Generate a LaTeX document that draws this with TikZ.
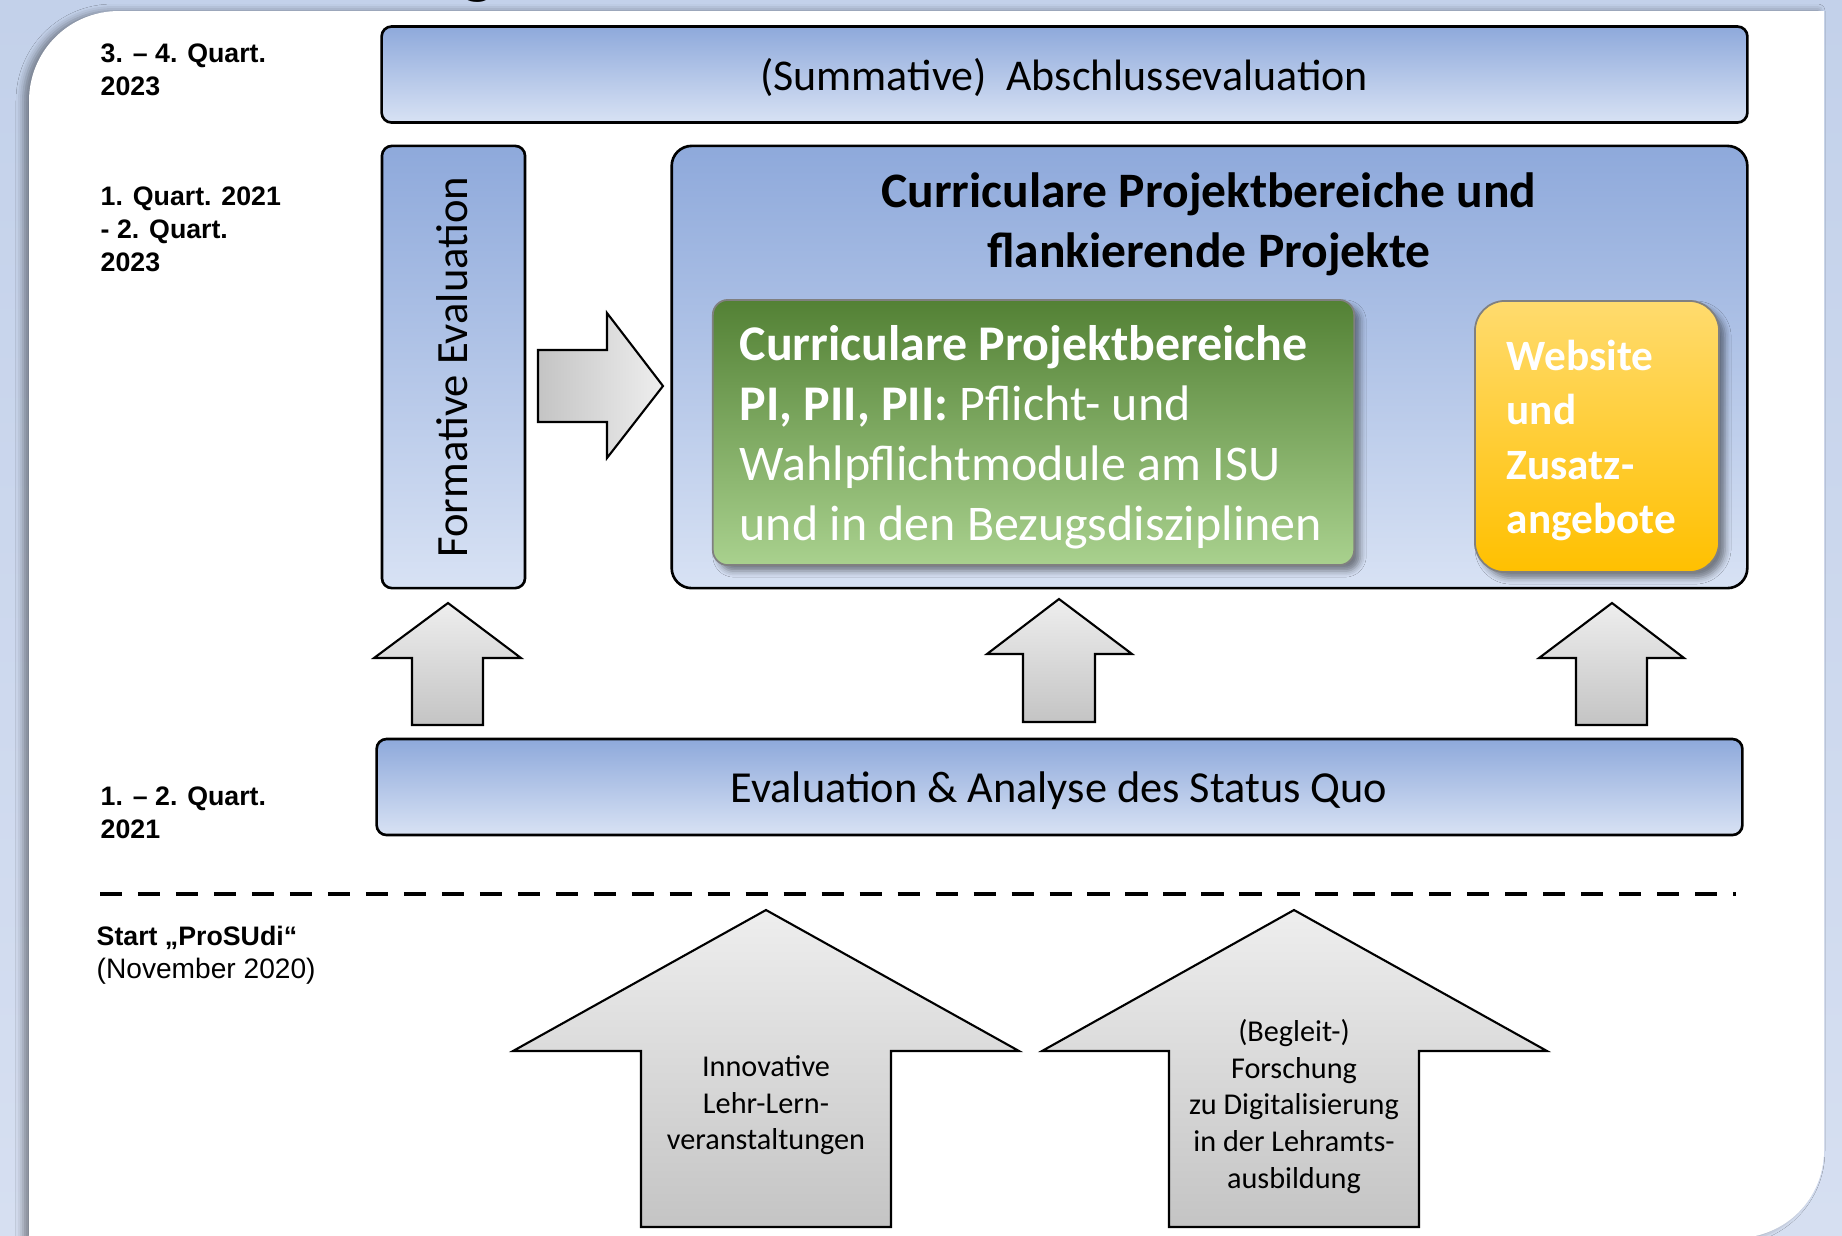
\documentclass[tikz,border=0pt]{standalone}
\usepackage{fontspec}
\setmainfont{Carlito}
\newfontfamily\labelfont{Liberation Sans}
\usetikzlibrary{shadows.blur}

\definecolor{bgtop}{HTML}{C3D1EA}
\definecolor{bgbot}{HTML}{D6DFF1}
\definecolor{boxtop}{HTML}{8EA9DB}
\definecolor{boxbot}{HTML}{D8E2F4}
\definecolor{greentop}{HTML}{538135}
\definecolor{greenbot}{HTML}{A9D18E}
\definecolor{orangetop}{HTML}{FFDB6E}
\definecolor{orangebot}{HTML}{FFC000}
\definecolor{arrowlight}{HTML}{EEEEEE}
\definecolor{arrowdark}{HTML}{C4C4C4}

\tikzset{
  bluebox/.style={draw=black, line width=0.75pt, rounded corners=0.1cm,
    top color=boxtop, bottom color=boxbot, inner sep=0pt},
  colorbox/.style={draw=black!50, line width=0.5pt, inner sep=0pt,
    blur shadow={shadow xshift=0.06cm, shadow yshift=-0.06cm,
      shadow blur radius=0.06cm, shadow opacity=45}},
  blockarrow/.style={draw=black, line width=0.6pt, line join=miter},
  uparrow/.style={blockarrow, top color=arrowlight, bottom color=arrowdark},
  timelabel/.style={anchor=west, align=left, inner sep=0pt,
    font=\labelfont\fontsize{7.6}{9.4}\selectfont},
  boxtext/.style={inner sep=0pt, font=\fontsize{12.5}{15}\selectfont},
  titletext/.style={inner sep=0pt, align=center,
    font=\bfseries\fontsize{14.1}{17.1}\selectfont},
  greentext/.style={inner sep=0pt, anchor=west, align=left, text=white,
    font=\fontsize{14.2}{17.1}\selectfont},
  orangetext/.style={inner sep=0pt, anchor=west, align=left, text=white,
    font=\bfseries\fontsize{12.3}{15.4}\selectfont},
  arrowtext/.style={inner sep=0pt, align=center,
    font=\fontsize{8.6}{10.4}\selectfont},
}

\begin{document}
\begin{tikzpicture}[x=0.01cm, y=-0.01cm]
  \useasboundingbox (0,0) rectangle (1842,1235);

  % background and white panel
  \fill[top color=bgtop, bottom color=bgbot] (0,0) rectangle (1842,1235);
  \fill[white, blur shadow={shadow xshift=-0.06cm, shadow yshift=0cm,
      shadow blur radius=0.07cm, shadow opacity=40}]
    (29,1240) -- (29,101) .. controls (29,51) and (69,11) .. (119,11)
    -- (1824,11) -- (1824,1150) .. controls (1824,1199) and (1785,1238) .. (1736,1238)
    -- cycle;
  \node[anchor=base, inner sep=0pt, font=\bfseries\fontsize{20}{24}\selectfont] (headg) at (478,-10) {g};

  % time labels
  \node[timelabel] (lab1) at (100,70) {\bfseries 3. – 4. Quart.\\\bfseries 2023};
  \node[timelabel] (lab2) at (100,229) {\bfseries 1. Quart. 2021\\\bfseries - 2. Quart.\\\bfseries 2023};
  \node[timelabel] (lab3) at (100,813) {\bfseries 1. – 2. Quart.\\\bfseries 2021};
  \node[timelabel] (lab4) at (96,955) {\bfseries Start „ProSUdi“\\\fontsize{8}{9.4}\selectfont (November 2020)};

  % summative evaluation
  \node[bluebox, minimum width=13.65cm, minimum height=0.96cm] (summ) at (1064.5,74.5) {};
  \node[boxtext] (summtext) at (1064,77.5) {(Summative)\hspace{0.45em}Abschlussevaluation};

  % formative evaluation
  \node[bluebox, minimum width=1.43cm, minimum height=4.42cm] (form) at (453.5,367) {};
  \node[boxtext, rotate=90, font=\fontsize{12.7}{15}\selectfont] (formtext) at (452,367) {Formative Evaluation};

  % right arrow
  \draw[blockarrow, left color=arrowdark, right color=arrowlight]
    (538,350) -- (607,350) -- (607,313) -- (663,386) -- (607,458) -- (607,422) -- (538,422) -- cycle;

  % curricular projects
  \node[bluebox, rounded corners=0.2cm, minimum width=10.75cm, minimum height=4.42cm] (curr) at (1209.5,367) {};
  \node[titletext] (currtitle) at (1209,224.5) {Curriculare Projektbereiche und\\flankierende Projekte};
  \node[colorbox, rounded corners=0.15cm, top color=greentop, bottom color=greenbot,
    minimum width=6.41cm, minimum height=2.65cm] (green) at (1033.5,432.5) {};
  \node[greentext] (greentxt) at (739,437) {\textbf{Curriculare Projektbereiche}\\\textbf{PI, PII, PII:} Pflicht- und\\Wahlpflichtmodule am ISU\\und in den Bezugsdisziplinen};
  \node[colorbox, rounded corners=0.3cm, top color=orangetop, bottom color=orangebot,
    minimum width=2.44cm, minimum height=2.71cm] (orange) at (1597,436.5) {};
  \node[orangetext] (orangetxt) at (1506,440.5) {Website\\und\\Zusatz-\\angebote};

  % up arrows from the status quo
  \draw[uparrow] (448,603) -- (521,658) -- (483,658) -- (483,725) -- (412,725) -- (412,658) -- (374,658) -- cycle;
  \draw[uparrow] (1059,599) -- (1132,654) -- (1095,654) -- (1095,722) -- (1023,722) -- (1023,654) -- (987,654) -- cycle;
  \draw[uparrow] (1612,603) -- (1684,658) -- (1647,658) -- (1647,725) -- (1576,725) -- (1576,658) -- (1539,658) -- cycle;

  % status quo
  \node[bluebox, minimum width=13.65cm, minimum height=0.96cm] (status) at (1059.5,787) {};
  \node[boxtext, font=\fontsize{12.6}{15}\selectfont] (statustext) at (1059,790.5) {Evaluation \& Analyse des Status Quo};

  % start line
  \coordinate (dashL) at (100,894);
  \coordinate (dashR) at (1736,894);
  \draw[line width=1.1pt, dash pattern=on 6.3pt off 4.5pt] (dashL) -- (dashR);

  % big arrows
  \draw[uparrow] (766,910) -- (1019,1051) -- (891,1051) -- (891,1227) -- (641,1227) -- (641,1051) -- (513,1051) -- cycle;
  \node[arrowtext] (lehre) at (766,1105.5) {Innovative\\Lehr-Lern-\\veranstaltungen};
  \draw[uparrow] (1294,910) -- (1547,1051) -- (1419,1051) -- (1419,1227) -- (1169,1227) -- (1169,1051) -- (1042,1051) -- cycle;
  \node[arrowtext] (forschung) at (1294,1106.5) {(Begleit-)\\Forschung\\zu Digitalisierung\\in der Lehramts-\\ausbildung};
\end{tikzpicture}
\end{document}
